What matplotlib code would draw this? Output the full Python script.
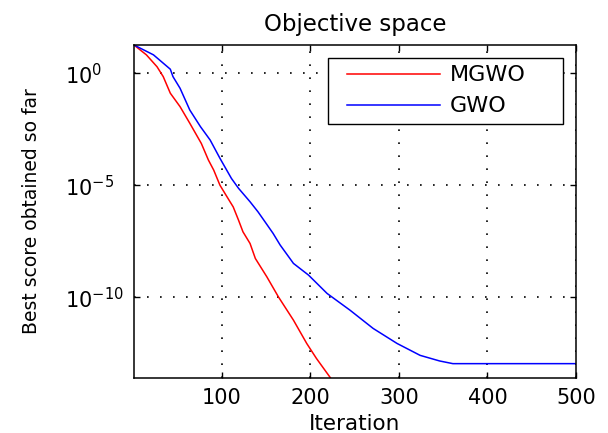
import numpy as np
import matplotlib
matplotlib.use("Agg")
import matplotlib.pyplot as plt
from matplotlib.ticker import FixedLocator, NullLocator
from matplotlib.legend_handler import HandlerLine2D

# Data (iteration, log10 of best score)
gwo_iter = [1, 23, 42, 45, 53, 64, 76, 87, 98, 111, 119, 132, 141, 149, 158, 166,
            177, 181, 198, 219, 245, 271, 298, 324, 346, 361, 500]
gwo_log = [1.26, 0.82, 0.18, -0.15, -0.67, -1.64, -2.38, -2.98, -3.79, -4.69, -5.13,
           -5.73, -6.18, -6.63, -7.14, -7.66, -8.26, -8.48, -9.0, -9.82, -10.57,
           -11.38, -12.05, -12.58, -12.83, -12.95, -12.95]
mgwo_iter = [1, 15, 27, 34, 42, 53, 64, 77, 85, 91, 98, 106, 113, 119, 124, 132,
             138, 151, 164, 181, 196, 207, 222, 240]
mgwo_log = [1.26, 0.82, 0.29, -0.15, -0.89, -1.49, -2.23, -3.13, -3.87, -4.32, -4.99,
            -5.51, -5.96, -6.55, -7.07, -7.59, -8.26, -9.08, -9.97, -11.01, -12.05,
            -12.72, -13.54, -14.6]
ytick_vals = [1e-10, 1e-5, 1e0]
ytick_labels = [r'$\mathregular{10^{-10}}$', r'$\mathregular{10^{-5}}$', r'$\mathregular{10^{0}}$']
xtick_vals = [100, 200, 300, 400, 500]

plt.rcParams['font.family'] = ['DejaVu Sans']

fig = plt.figure(figsize=(6.08, 4.33), dpi=100)
ax = fig.add_axes([134/608, 1-378/433, (576-134)/608, (378-45)/433])

ax.semilogy(mgwo_iter, 10**np.array(mgwo_log), color='#ff0000', lw=1.1, label='MGWO')
ax.semilogy(gwo_iter, 10**np.array(gwo_log), color='#0000ff', lw=1.1, label='GWO')

ax.set_xlim(1, 500)
ax.set_ylim(10**-13.59, 10**1.26)
ax.xaxis.set_major_locator(FixedLocator(xtick_vals))
ax.yaxis.set_major_locator(FixedLocator(ytick_vals))
ax.yaxis.set_minor_locator(NullLocator())
ax.set_yticklabels(ytick_labels)

ax.grid(True, which='major', color='black', linestyle=(0, (1, 6.8)), linewidth=1.2)
ax.tick_params(direction='in', top=True, right=True, length=4, width=1,
               labelsize=15)
ax.tick_params(axis='x', pad=7.5)
ax.tick_params(axis='y', pad=49.5)
for lab in ax.get_yticklabels():
    lab.set_horizontalalignment('left')
for s in ax.spines.values():
    s.set_linewidth(1.1)

ax.set_xlabel('Iteration', fontsize=15.5, labelpad=4)
ax.set_ylabel('Best score obtained so far', fontsize=13.5)
ax.yaxis.set_label_coords(-0.21, 0.5)
ax.set_title('Objective space', fontsize=16.5, pad=10)

leg = ax.legend(loc='upper left', bbox_to_anchor=(0.439, 0.5, 0.532, 0.461),
                mode='expand', borderaxespad=0,
                fontsize=16, handlelength=4.7, handletextpad=0.45, fancybox=False,
                framealpha=1, edgecolor='black', borderpad=0.33, labelspacing=0.5,
                handler_map={plt.Line2D: HandlerLine2D(xpad=0.52)})
leg.get_frame().set_linewidth(1.0)

fig.savefig('out.png', dpi=100)
